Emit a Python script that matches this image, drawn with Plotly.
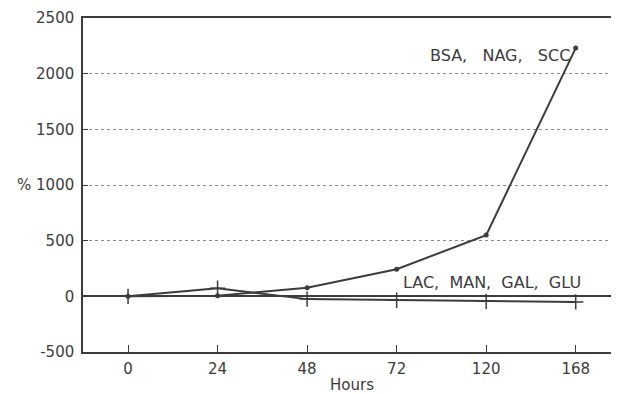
import plotly.graph_objects as go

hours = ["0", "24", "48", "72", "120", "168"]
bsa_nag_scc = [0, 5, 78, 243, 550, 2230]
lac_man_gal_glu = [0, 72, -25, -35, -45, -50]
y_ticks = [-500, 0, 500, 1000, 1500, 2000, 2500]
y_ticklabels = ["-500", "0", "500", "1000", "1500", "2000", "2500"]
label_top = "BSA,\u00a0\u00a0\u00a0NAG,\u00a0\u00a0\u00a0SCC"
label_bottom = "LAC,\u00a0\u00a0MAN,\u00a0\u00a0GAL,\u00a0\u00a0GLU"

ink = "#3c3c3c"
font = "DejaVu Sans, sans-serif"

fig = go.Figure()
fig.add_trace(go.Scatter(
    x=hours, y=lac_man_gal_glu, mode="lines+markers",
    line=dict(color=ink, width=2),
    marker=dict(symbol="cross-thin", size=11, line=dict(color=ink, width=1.5)),
    showlegend=False, cliponaxis=False))
fig.add_trace(go.Scatter(
    x=hours, y=bsa_nag_scc, mode="lines+markers",
    line=dict(color=ink, width=2),
    marker=dict(symbol="circle", size=5, color=ink),
    showlegend=False, cliponaxis=False))

fig.add_annotation(x=0.917, xref="paper", y=2165, yref="y", text=label_top,
                   showarrow=False, xanchor="right", yanchor="middle",
                   font=dict(family=font, size=16, color=ink))
fig.add_annotation(x=0.938, xref="paper", y=121, yref="y", text=label_bottom,
                   showarrow=False, xanchor="right", yanchor="middle",
                   font=dict(family=font, size=16, color=ink))
fig.add_annotation(x=0, xref="paper", y=1000, yref="y", text="%",
                   showarrow=False, xanchor="right", xshift=-50,
                   font=dict(family=font, size=15, color=ink))
fig.add_annotation(x=0.505, xref="paper", y=-500, yref="y", text="Hours",
                   showarrow=False, xanchor="center", yanchor="middle", yshift=-33,
                   font=dict(family=font, size=15, color=ink))

fig.update_layout(
    width=611, height=386,
    margin=dict(l=75, r=3, t=10, b=42, autoexpand=False),
    paper_bgcolor="white", plot_bgcolor="white",
    font=dict(family=font, size=15, color=ink),
)
fig.update_xaxes(
    type="category", range=[-0.503, 5.45], automargin=False,
    showline=True, linecolor=ink, linewidth=1.5, mirror=True,
    ticks="inside", ticklen=7, tickcolor=ink, tickwidth=1.2,
    showgrid=False, zeroline=False,
    tickfont=dict(family=font, size=15, color=ink),
    ticklabelstandoff=2,
)
fig.update_yaxes(
    range=[-500, 2500], tickvals=y_ticks, ticktext=y_ticklabels, automargin=False,
    showline=True, linecolor=ink, linewidth=1.5, mirror=True,
    ticks="inside", ticklen=5, tickcolor=ink, tickwidth=1,
    showgrid=True, gridcolor="#8a8a8a", griddash="dot", gridwidth=1,
    zeroline=True, zerolinecolor=ink, zerolinewidth=1.5,
    tickfont=dict(family=font, size=15, color=ink),
    ticklabelstandoff=4,
)

fig.write_html("out.html")
